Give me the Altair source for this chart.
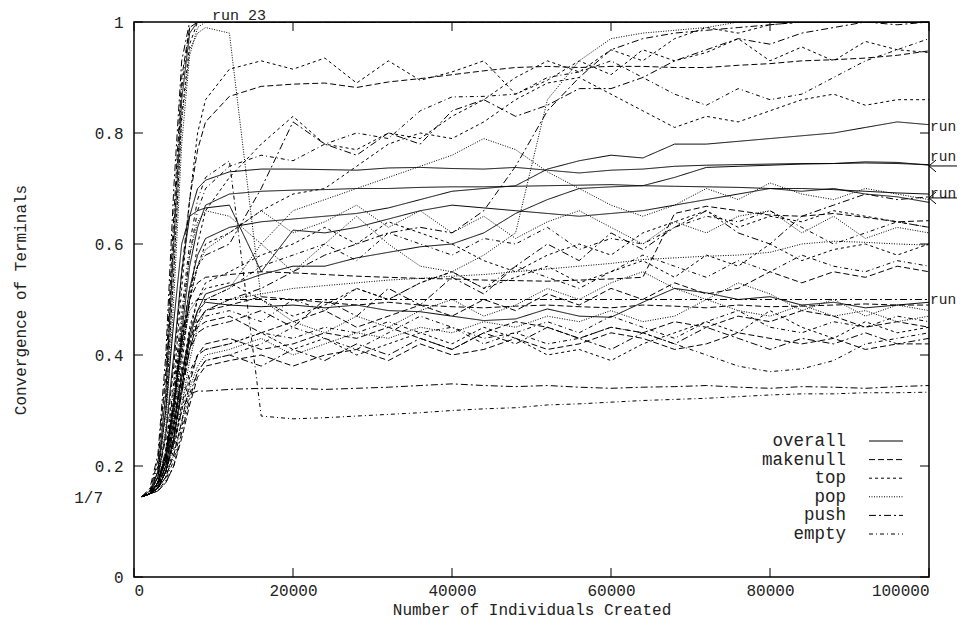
import pandas as pd
import altair as alt

FONT = "Liberation Mono"
INK = "#222"

# sample points (number of individuals created)
x_grid = [1000, 2000, 3000, 4000, 5000, 6000, 7000, 8000, 9000,
          12000, 16000, 20000, 24000, 28000, 32000, 36000, 40000, 44000, 48000, 52000, 56000,
          60000, 64000, 68000, 72000, 76000, 80000, 84000, 88000, 92000, 96000, 100000]
# run 23 saturates at 1 early, so it only needs the rise
x_fast = [1000, 2000, 3000, 4000, 5000, 6000, 7000, 8000, 9000, 12000, 100000]

x_ticks = [0, 20000, 40000, 60000, 80000, 100000]
y_ticks = [0, 0.2, 0.4, 0.6, 0.8, 1]

cats = ["overall", "makenull", "top", "pop", "push", "empty"]
dashes = [[1, 0], [6, 3], [3, 3], [1, 1.5], [7, 3, 2, 3], [4, 3, 1, 3]]

### overall
overall_1 = [0.145, 0.15, 0.17, 0.22, 0.31, 0.42, 0.52, 0.58, 0.61,
             0.63, 0.64, 0.645, 0.65, 0.655, 0.665, 0.68, 0.695, 0.70, 0.705, 0.735, 0.75,
             0.76, 0.755, 0.78, 0.78, 0.785, 0.79, 0.795, 0.80, 0.81, 0.82, 0.815]
overall_2 = [0.145, 0.15, 0.18, 0.26, 0.40, 0.55, 0.65, 0.70, 0.715,
             0.73, 0.735, 0.735, 0.734, 0.733, 0.737, 0.738, 0.736, 0.735, 0.738, 0.733, 0.728,
             0.733, 0.735, 0.74, 0.742, 0.743, 0.744, 0.745, 0.745, 0.746, 0.745, 0.743]
overall_3 = [0.145, 0.15, 0.17, 0.21, 0.30, 0.44, 0.56, 0.63, 0.67,
             0.69, 0.695, 0.697, 0.698, 0.70, 0.70, 0.702, 0.703, 0.703, 0.704, 0.705, 0.706,
             0.707, 0.705, 0.704, 0.703, 0.702, 0.70, 0.70, 0.698, 0.695, 0.692, 0.69]
overall_4 = [0.145, 0.155, 0.19, 0.30, 0.46, 0.60, 0.65, 0.66, 0.665,
             0.67, 0.55, 0.625, 0.62, 0.63, 0.645, 0.66, 0.67, 0.665, 0.66, 0.655, 0.65,
             0.655, 0.66, 0.67, 0.68, 0.69, 0.70, 0.695, 0.70, 0.69, 0.685, 0.675]
overall_5 = [0.145, 0.15, 0.16, 0.19, 0.25, 0.34, 0.43, 0.48, 0.51,
             0.525, 0.545, 0.56, 0.56, 0.575, 0.585, 0.595, 0.60, 0.62, 0.655, 0.68, 0.70,
             0.703, 0.705, 0.72, 0.738, 0.74, 0.742, 0.744, 0.745, 0.748, 0.747, 0.742]
overall_6 = [0.145, 0.15, 0.165, 0.20, 0.27, 0.36, 0.44, 0.48, 0.495,
             0.49, 0.487, 0.49, 0.485, 0.49, 0.48, 0.478, 0.47, 0.462, 0.465, 0.483, 0.47,
             0.468, 0.495, 0.52, 0.512, 0.50, 0.505, 0.49, 0.495, 0.485, 0.49, 0.495]

### makenull
makenull_1 = [0.145, 0.155, 0.18, 0.25, 0.38, 0.55, 0.68, 0.77, 0.82,
              0.866, 0.884, 0.888, 0.89, 0.882, 0.892, 0.898, 0.905, 0.912, 0.918, 0.92, 0.918,
              0.92, 0.92, 0.918, 0.918, 0.922, 0.925, 0.93, 0.932, 0.935, 0.94, 0.948]
makenull_2 = [0.145, 0.15, 0.17, 0.22, 0.31, 0.42, 0.50, 0.53, 0.54,
              0.545, 0.55, 0.548, 0.545, 0.542, 0.54, 0.538, 0.537, 0.535, 0.534, 0.533, 0.535,
              0.537, 0.54, 0.655, 0.668, 0.66, 0.652, 0.65, 0.655, 0.648, 0.64, 0.642]
makenull_3 = [0.145, 0.15, 0.16, 0.19, 0.25, 0.33, 0.41, 0.46, 0.48,
              0.49, 0.505, 0.50, 0.495, 0.49, 0.495, 0.49, 0.487, 0.485, 0.488, 0.49, 0.487,
              0.485, 0.49, 0.488, 0.485, 0.49, 0.487, 0.488, 0.49, 0.492, 0.49, 0.49]
makenull_4 = [0.145, 0.15, 0.16, 0.18, 0.22, 0.28, 0.35, 0.40, 0.42,
              0.43, 0.41, 0.42, 0.44, 0.43, 0.45, 0.43, 0.41, 0.44, 0.46, 0.45, 0.43,
              0.45, 0.44, 0.46, 0.45, 0.47, 0.46, 0.48, 0.47, 0.45, 0.46, 0.45]
makenull_5 = [0.145, 0.15, 0.17, 0.21, 0.28, 0.37, 0.43, 0.45, 0.46,
              0.47, 0.44, 0.46, 0.48, 0.45, 0.47, 0.49, 0.47, 0.50, 0.48, 0.51, 0.49,
              0.52, 0.50, 0.53, 0.51, 0.52, 0.55, 0.53, 0.55, 0.54, 0.56, 0.55]
makenull_6 = [0.145, 0.15, 0.155, 0.17, 0.20, 0.25, 0.31, 0.36, 0.38,
              0.39, 0.40, 0.38, 0.40, 0.41, 0.39, 0.42, 0.40, 0.41, 0.43, 0.41, 0.42,
              0.44, 0.43, 0.41, 0.42, 0.44, 0.43, 0.42, 0.43, 0.41, 0.42, 0.42]

### top
top_1 = [0.145, 0.15, 0.17, 0.23, 0.35, 0.52, 0.68, 0.80, 0.86,
         0.915, 0.93, 0.915, 0.935, 0.89, 0.93, 0.895, 0.91, 0.93, 0.87, 0.895, 0.93,
         0.905, 0.95, 0.93, 0.945, 0.97, 0.93, 0.955, 0.93, 0.965, 0.95, 0.945]
top_2 = [0.145, 0.15, 0.165, 0.20, 0.27, 0.38, 0.50, 0.60, 0.66,
         0.72, 0.78, 0.83, 0.78, 0.77, 0.80, 0.79, 0.83, 0.86, 0.90, 0.93, 0.91,
         0.95, 0.93, 0.97, 0.99, 0.98, 0.995, 1.0, 1.0, 1.0, 1.0, 1.0]
top_3 = [0.145, 0.15, 0.17, 0.21, 0.29, 0.40, 0.50, 0.56, 0.60,
         0.62, 0.66, 0.69, 0.70, 0.74, 0.78, 0.80, 0.79, 0.82, 0.86, 0.89, 0.90,
         0.87, 0.84, 0.81, 0.83, 0.82, 0.84, 0.86, 0.87, 0.85, 0.86, 0.86]
top_4 = [0.145, 0.15, 0.16, 0.19, 0.25, 0.34, 0.44, 0.50, 0.53,
         0.55, 0.58, 0.60, 0.63, 0.60, 0.64, 0.62, 0.60, 0.57, 0.55, 0.58, 0.60,
         0.58, 0.62, 0.64, 0.66, 0.63, 0.65, 0.64, 0.66, 0.65, 0.64, 0.63]
top_5 = [0.145, 0.15, 0.16, 0.18, 0.23, 0.30, 0.36, 0.40, 0.41,
         0.42, 0.44, 0.41, 0.43, 0.40, 0.42, 0.44, 0.42, 0.45, 0.43, 0.40, 0.41,
         0.39, 0.42, 0.44, 0.46, 0.44, 0.48, 0.45, 0.43, 0.46, 0.44, 0.45]
top_6 = [0.145, 0.15, 0.165, 0.20, 0.27, 0.36, 0.45, 0.50, 0.52,
         0.53, 0.50, 0.47, 0.49, 0.52, 0.50, 0.53, 0.55, 0.52, 0.54, 0.56, 0.53,
         0.55, 0.57, 0.54, 0.58, 0.56, 0.60, 0.57, 0.59, 0.60, 0.58, 0.60]

### pop
pop_1 = [0.145, 0.15, 0.17, 0.22, 0.32, 0.46, 0.58, 0.64, 0.66,
         0.65, 0.60, 0.55, 0.60, 0.65, 0.60, 0.56, 0.55, 0.58, 0.62, 0.86, 0.93,
         0.97, 0.98, 0.985, 0.99, 1.0, 1.0, 1.0, 1.0, 1.0, 1.0, 1.0]
pop_2 = [0.145, 0.15, 0.16, 0.19, 0.24, 0.31, 0.39, 0.45, 0.48,
         0.50, 0.51, 0.52, 0.525, 0.53, 0.535, 0.538, 0.542, 0.545, 0.55, 0.555, 0.56,
         0.565, 0.572, 0.575, 0.578, 0.58, 0.585, 0.60, 0.605, 0.603, 0.60, 0.598]
pop_3 = [0.145, 0.15, 0.17, 0.21, 0.29, 0.40, 0.50, 0.56, 0.59,
         0.62, 0.66, 0.62, 0.64, 0.67, 0.63, 0.66, 0.62, 0.65, 0.61, 0.64, 0.66,
         0.63, 0.60, 0.64, 0.62, 0.65, 0.66, 0.62, 0.65, 0.61, 0.63, 0.62]
pop_4 = [0.145, 0.15, 0.18, 0.30, 0.55, 0.82, 0.95, 0.98, 0.99,
         0.98, 0.50, 0.46, 0.44, 0.47, 0.45, 0.48, 0.50, 0.47, 0.49, 0.52, 0.50,
         0.53, 0.55, 0.52, 0.50, 0.53, 0.51, 0.48, 0.50, 0.47, 0.49, 0.48]
pop_5 = [0.145, 0.15, 0.16, 0.18, 0.22, 0.28, 0.34, 0.38, 0.40,
         0.41, 0.43, 0.40, 0.42, 0.44, 0.43, 0.45, 0.44, 0.46, 0.45, 0.47, 0.46,
         0.48, 0.46, 0.47, 0.50, 0.48, 0.47, 0.49, 0.47, 0.48, 0.46, 0.47]
pop_6 = [0.145, 0.15, 0.17, 0.22, 0.30, 0.41, 0.48, 0.50, 0.50,
         0.52, 0.60, 0.66, 0.68, 0.70, 0.72, 0.74, 0.76, 0.79, 0.77, 0.73, 0.70,
         0.67, 0.65, 0.67, 0.70, 0.68, 0.71, 0.69, 0.68, 0.70, 0.69, 0.68]

### push
push_1 = [0.145, 0.15, 0.17, 0.22, 0.32, 0.44, 0.49, 0.50, 0.50,
          0.50, 0.50, 0.50, 0.50, 0.50, 0.50, 0.50, 0.50, 0.50, 0.50, 0.50, 0.50,
          0.50, 0.50, 0.50, 0.50, 0.50, 0.50, 0.50, 0.50, 0.50, 0.50, 0.50]
push_2 = [0.145, 0.15, 0.16, 0.19, 0.24, 0.30, 0.33, 0.335, 0.335,
          0.338, 0.34, 0.34, 0.338, 0.34, 0.342, 0.345, 0.348, 0.345, 0.343, 0.345, 0.342,
          0.34, 0.342, 0.343, 0.345, 0.342, 0.34, 0.343, 0.342, 0.34, 0.343, 0.345]
push_3 = [0.145, 0.15, 0.16, 0.19, 0.25, 0.33, 0.41, 0.46, 0.48,
          0.50, 0.52, 0.55, 0.58, 0.60, 0.62, 0.63, 0.62, 0.66, 0.74, 0.84, 0.90,
          0.95, 0.97, 0.98, 0.985, 0.99, 0.995, 1.0, 1.0, 1.0, 1.0, 1.0]
push_4 = [0.145, 0.15, 0.17, 0.22, 0.31, 0.43, 0.52, 0.56, 0.58,
          0.60, 0.70, 0.82, 0.78, 0.76, 0.80, 0.78, 0.84, 0.86, 0.83, 0.85, 0.88,
          0.88, 0.90, 0.93, 0.95, 0.97, 0.96, 0.98, 0.99, 1.0, 0.995, 1.0]
push_5 = [0.145, 0.15, 0.16, 0.20, 0.26, 0.34, 0.41, 0.44, 0.45,
          0.46, 0.48, 0.45, 0.50, 0.47, 0.52, 0.49, 0.54, 0.51, 0.56, 0.60, 0.57,
          0.62, 0.59, 0.63, 0.66, 0.62, 0.60, 0.65, 0.67, 0.69, 0.68, 0.685]
push_6 = [0.145, 0.15, 0.155, 0.17, 0.20, 0.26, 0.32, 0.37, 0.39,
          0.40, 0.38, 0.41, 0.39, 0.42, 0.40, 0.43, 0.41, 0.44, 0.42, 0.45, 0.43,
          0.41, 0.44, 0.42, 0.45, 0.43, 0.41, 0.43, 0.42, 0.44, 0.42, 0.43]

### empty
empty_1 = [0.145, 0.15, 0.17, 0.23, 0.34, 0.48, 0.60, 0.68, 0.72,
           0.75, 0.29, 0.285, 0.287, 0.29, 0.293, 0.296, 0.30, 0.303, 0.305, 0.31, 0.312,
           0.315, 0.318, 0.32, 0.322, 0.325, 0.328, 0.33, 0.33, 0.332, 0.332, 0.333]
empty_2 = [0.145, 0.15, 0.16, 0.19, 0.24, 0.31, 0.37, 0.40, 0.41,
           0.42, 0.44, 0.43, 0.45, 0.44, 0.46, 0.44, 0.45, 0.43, 0.44, 0.42, 0.43,
           0.45, 0.44, 0.42, 0.40, 0.38, 0.37, 0.375, 0.39, 0.42, 0.43, 0.44]
empty_3 = [0.145, 0.15, 0.17, 0.21, 0.28, 0.36, 0.43, 0.46, 0.47,
           0.48, 0.46, 0.50, 0.48, 0.52, 0.50, 0.53, 0.55, 0.52, 0.56, 0.54, 0.52,
           0.55, 0.58, 0.56, 0.54, 0.57, 0.55, 0.58, 0.56, 0.55, 0.57, 0.56]
empty_4 = [0.145, 0.15, 0.17, 0.22, 0.32, 0.46, 0.58, 0.66, 0.70,
           0.74, 0.76, 0.75, 0.78, 0.80, 0.79, 0.84, 0.865, 0.866, 0.87, 0.90, 0.91,
           0.93, 0.90, 0.87, 0.85, 0.88, 0.86, 0.87, 0.90, 0.93, 0.95, 0.97]
empty_5 = [0.145, 0.15, 0.165, 0.20, 0.27, 0.35, 0.42, 0.47, 0.50,
           0.52, 0.56, 0.58, 0.60, 0.57, 0.62, 0.60, 0.58, 0.61, 0.60, 0.63, 0.59,
           0.61, 0.60, 0.63, 0.65, 0.64, 0.66, 0.63, 0.60, 0.62, 0.64, 0.63]
empty_6 = [0.145, 0.15, 0.155, 0.175, 0.21, 0.27, 0.33, 0.37, 0.39,
           0.40, 0.42, 0.45, 0.43, 0.41, 0.44, 0.47, 0.45, 0.42, 0.44, 0.46, 0.44,
           0.47, 0.45, 0.43, 0.46, 0.48, 0.45, 0.44, 0.46, 0.45, 0.47, 0.46]

### run 23 (goes to 1 straight away)
r23_overall = [0.145, 0.15, 0.19, 0.33, 0.60, 0.86, 0.98, 1.0, 1.0, 1.0, 1.0]
r23_makenull = [0.145, 0.155, 0.21, 0.37, 0.65, 0.90, 0.99, 1.0, 1.0, 1.0, 1.0]
r23_top = [0.145, 0.15, 0.18, 0.30, 0.55, 0.83, 0.96, 1.0, 1.0, 1.0, 1.0]
r23_pop = [0.145, 0.15, 0.17, 0.27, 0.50, 0.78, 0.94, 0.99, 1.0, 1.0, 1.0]
r23_push = [0.145, 0.16, 0.22, 0.40, 0.70, 0.93, 1.0, 1.0, 1.0, 1.0, 1.0]
r23_empty = [0.145, 0.15, 0.20, 0.35, 0.62, 0.88, 0.99, 1.0, 1.0, 1.0, 1.0]

# labels on the right hand side
run_label_y = [0.81, 0.757, 0.69, 0.499]
arrow_y = [0.7406, 0.683]

full_runs = {
    "overall": [overall_1, overall_2, overall_3, overall_4, overall_5, overall_6],
    "makenull": [makenull_1, makenull_2, makenull_3, makenull_4, makenull_5, makenull_6],
    "top": [top_1, top_2, top_3, top_4, top_5, top_6],
    "pop": [pop_1, pop_2, pop_3, pop_4, pop_5, pop_6],
    "push": [push_1, push_2, push_3, push_4, push_5, push_6],
    "empty": [empty_1, empty_2, empty_3, empty_4, empty_5, empty_6],
}
fast_run = {"overall": r23_overall, "makenull": r23_makenull, "top": r23_top,
            "pop": r23_pop, "push": r23_push, "empty": r23_empty}

rows = []
for cat, runs in full_runs.items():
    for k, ys in enumerate(runs):
        for xv, yv in zip(x_grid, ys):
            rows.append({"x": xv, "y": yv, "series": f"{cat}{k}", "cat": cat})
for cat, ys in fast_run.items():
    for xv, yv in zip(x_fast, ys):
        rows.append({"x": xv, "y": yv, "series": f"{cat}23", "cat": cat})
df = pd.DataFrame(rows)

W, H = 795, 555

x_axis = alt.Axis(values=x_ticks, format="d", title="Number of Individuals Created",
                  ticks=False, domain=False, grid=False, labelPadding=5,
                  titleX=W / 2, titleY=32, titleAlign="center", titleBaseline="middle")
y_axis = alt.Axis(values=y_ticks, title="Convergence of Terminals",
                  labelExpr="datum.value == 0 ? '0' : datum.value == 1 ? '1' : format(datum.value, '.1f')",
                  ticks=False, domain=False, grid=False, labelPadding=11,
                  titleX=-114, titleY=H / 2, titleAngle=270, titleAlign="center", titleBaseline="middle")


def xq(field="x"):
    return alt.X(f"{field}:Q", scale=alt.Scale(domain=[0, 100000], nice=False), axis=x_axis)


def yq(field="y"):
    return alt.Y(f"{field}:Q", scale=alt.Scale(domain=[0, 1], nice=False), axis=y_axis)


lines = alt.Chart(df).mark_line(color="black", strokeWidth=1, clip=True).encode(
    x=xq(), y=yq(), detail="series:N",
    strokeDash=alt.StrokeDash("cat:N", scale=alt.Scale(domain=cats, range=dashes), legend=None),
)

# gnuplot style ticks, pointing inwards on all four sides
xt = pd.DataFrame({"x": x_ticks})
yt = pd.DataFrame({"y": y_ticks})
tick_bottom = alt.Chart(xt).mark_rule(color="black").encode(x=xq(), y=alt.value(H), y2=alt.value(H - 9))
tick_top = alt.Chart(xt).mark_rule(color="black").encode(x=xq(), y=alt.value(0), y2=alt.value(9))
tick_left = alt.Chart(yt).mark_rule(color="black").encode(y=yq(), x=alt.value(0), x2=alt.value(9))
tick_right = alt.Chart(yt).mark_rule(color="black").encode(y=yq(), x=alt.value(W - 9), x2=alt.value(W))

seventh = alt.Chart(pd.DataFrame({"y": [1 / 7], "t": ["1/7"]})).mark_text(
    align="right", baseline="middle", font=FONT, fontSize=16, color=INK
).encode(x=alt.value(-31), y=yq(), text="t:N")

run_labels = alt.Chart(pd.DataFrame({"x": [100000] * len(run_label_y), "y": run_label_y})).mark_text(
    align="left", baseline="middle", dx=1, font=FONT, fontSize=14.5, color=INK, text="run"
).encode(x=xq(), y=yq())

run23 = alt.Chart(pd.DataFrame({"x": [13200], "y": [1.0]})).mark_text(
    align="center", baseline="middle", dy=-7, font=FONT, fontSize=15, color=INK, text="run 23"
).encode(x=xq(), y=yq())

arrow_df = pd.DataFrame({"x": [100000] * len(arrow_y), "y": arrow_y})
arrow_lines = alt.Chart(arrow_df).mark_rule(color="black", strokeWidth=1).encode(
    x=xq(), x2=alt.value(W + 40), y=yq())
arrow_heads = alt.Chart(arrow_df).mark_point(
    shape="M2,-1.7L0,0L2,1.7", filled=False, size=49, color="black", strokeWidth=1, opacity=1
).encode(x=xq(), y=yq())

# key, drawn the gnuplot way: label first, then a line sample
key_layers = []
one = pd.DataFrame({"a": [0]})
for i, (cat, dash) in enumerate(zip(cats, dashes)):
    ky = 419 + i * 18.6
    key_layers.append(alt.Chart(one).mark_text(
        align="right", baseline="middle", font=FONT, fontSize=17.5, color=INK, text=cat
    ).encode(x=alt.value(712), y=alt.value(ky)))
    key_layers.append(alt.Chart(one).mark_rule(color="black", strokeWidth=1, strokeDash=dash).encode(
        x=alt.value(735), x2=alt.value(769), y=alt.value(ky)))

chart = alt.layer(
    lines, tick_bottom, tick_top, tick_left, tick_right, seventh,
    run_labels, run23, arrow_lines, arrow_heads, *key_layers
).properties(
    width=W, height=H,
    autosize=alt.AutoSizeParams(type="none"),
    padding={"left": 126, "top": 14, "right": 28, "bottom": 41},
    background="white",
).configure_axis(
    labelFont=FONT, titleFont=FONT, labelFontSize=16, titleFontSize=16,
    labelColor=INK, titleColor=INK, titleFontWeight="normal",
).configure_view(stroke="black", strokeWidth=1.5)

chart.save("out.html", embed_options={"renderer": "svg", "actions": False})
